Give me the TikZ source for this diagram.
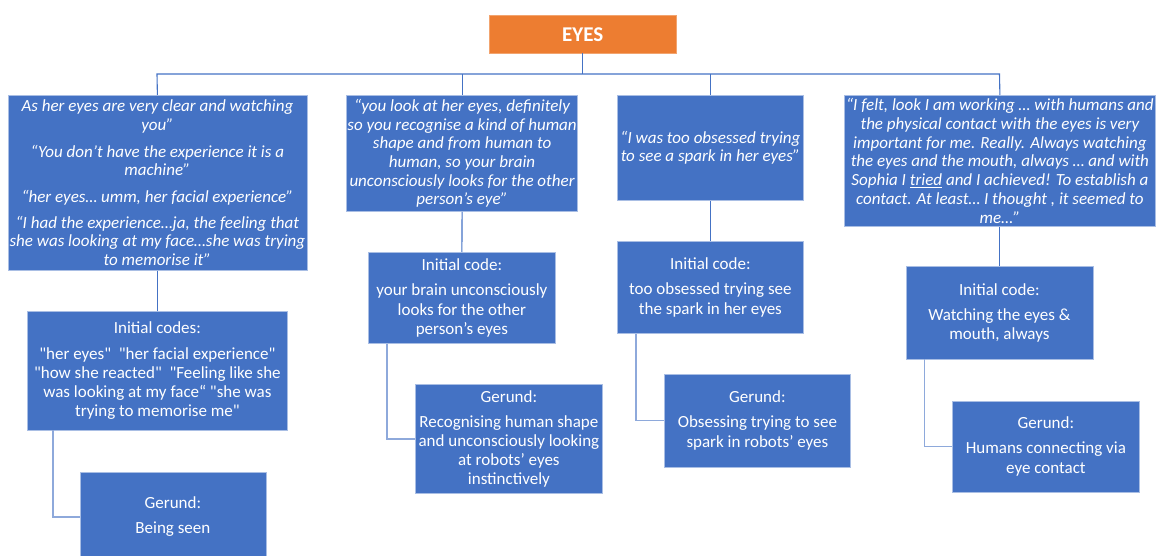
\documentclass[tikz,border=0pt]{standalone}
\usepackage{fontspec}
\setmainfont{Carlito}[Ligatures=TeXOff]
\definecolor{boxblue}{HTML}{4472C4}
\definecolor{boxedge}{HTML}{A9BEE4}
\definecolor{rootorange}{HTML}{ED7D31}
\definecolor{busblue}{HTML}{4472C4}
\definecolor{elbowblue}{HTML}{8EA9DB}
\tikzset{
  card/.style={draw=boxedge, line width=0.8pt, fill=boxblue, text=white,
    align=center, inner sep=1pt, anchor=north west,
    font=\fontsize{17}{19.2}\selectfont},
  quote/.style={card, font=\fontsize{17}{18.7}\selectfont\itshape},
  root/.style={draw=rootorange!70!white, fill=rootorange, text=white,
    anchor=north west, font=\fontsize{21}{24}\selectfont\bfseries},
  bus/.style={draw=busblue, line width=1.1pt},
  elbow/.style={draw=elbowblue, line width=1.4pt}
}
\begin{document}
\begin{tikzpicture}[x=1pt,y=-1pt]
\useasboundingbox (0,0) rectangle (1160,556);

% root
\node[root, minimum width=187, minimum height=38] (eyes) at (489,15) {EYES};

% quotes
\node[quote, minimum width=299, minimum height=175] (q1) at (7.5,95)
  {As her eyes are very clear and watching\\ you”\\[8pt]
   “You don’t have the experience it is a\\ machine”\\[8pt]
   “her eyes… umm, her facial experience”\\[7pt]
   “I had the experience…ja, the feeling that\\ she was looking at my face…she was trying\\ to memorise it”};
\node[quote, minimum width=231, minimum height=116] (q2) at (346,95)
  {“you look at her eyes, definitely\\ so you recognise a kind of human\\ shape and from human to\\ human, so your brain\\ unconsciously looks for the other\\ person’s eye”};
\node[quote, minimum width=186, minimum height=105] (q3) at (617,95)
  {“I was too obsessed trying\\ to see a spark in her eyes”};
\node[quote, minimum width=311, minimum height=131] (q4) at (844,95)
  {“I felt, look I am working … with humans and\\ the physical contact with the eyes is very\\ important for me. Really. Always watching\\ the eyes and the mouth, always … and with\\ Sophia I \underline{tried} and I achieved! To establish a\\ contact. At least… I thought , it seemed to\\ me…”};

% initial codes
\node[card, minimum width=260, minimum height=118] (c1) at (27,311.5)
  {Initial codes:\\[6pt]
   "her eyes"\ \ "her facial experience"\\
   "how she reacted"\ \ "Feeling like she\\
   was looking at my face“ "she was\\
   trying to memorise me"};
\node[card, minimum width=187, minimum height=91] (c2) at (368,252)
  {Initial code:\\[6pt] your brain unconsciously\\ looks for the other\\ person’s eyes};
\node[card, minimum width=186, minimum height=92] (c3) at (617,241)
  {Initial code:\\[6pt] too obsessed trying see\\ the spark in her eyes};
\node[card, minimum width=187, minimum height=92] (c4) at (905.5,266.5)
  {Initial code:\\[6pt] Watching the eyes \&\\ mouth, always};

% gerunds
\node[card, minimum width=186, minimum height=90] (g1) at (79.5,471.5)
  {Gerund:\\[6pt] Being seen};
\node[card, minimum width=187, minimum height=109] (g2) at (415,384)
  {Gerund:\\[6pt] Recognising human shape\\ and unconsciously looking\\ at robots’ eyes\\ instinctively};
\node[card, minimum width=186, minimum height=93] (g3) at (664,373.5)
  {Gerund:\\[6pt] Obsessing trying to see\\ spark in robots’ eyes};
\node[card, minimum width=187, minimum height=91] (g4) at (952,400.5)
  {Gerund:\\[6pt] Humans connecting via\\ eye contact};

% tree connectors from the root
\coordinate (busL) at (157,74);
\coordinate (busR) at (999.5,74);
\draw[bus] (eyes.south) -- (eyes.south |- busL);
\draw[bus] (q1.north) -- (busL) -- (busR) -- (q4.north);
\draw[bus] (q2.north) -- (q2.north |- busL);
\draw[bus] (q3.north) -- (q3.north |- busL);

% quote to initial code
\draw[bus] (q1.south) -- (c1.north);
\draw[bus] (q2.south) -- (c2.north);
\draw[bus] (q3.south) -- (c3.north);
\draw[bus] (q4.south -| c4.north) -- (c4.north);

% initial code to gerund
\draw[elbow] ([xshift=26]c1.south west) |- (g1.west);
\draw[elbow] ([xshift=19]c2.south west) |- (g2.west);
\draw[elbow] ([xshift=19]c3.south west) |- (g3.west);
\draw[elbow] ([xshift=19]c4.south west) |- (g4.west);
\end{tikzpicture}
\end{document}
